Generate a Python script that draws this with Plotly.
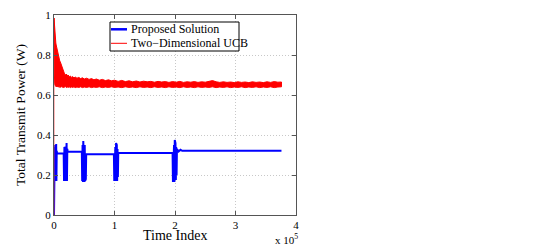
import plotly.graph_objects as go

# x values are in units of 1e5 time steps (axis shows "x 10^5")
x_ticks = [0, 1, 2, 3, 4]
x_tick_labels = ["0", "1", "2", "3", "4"]
y_ticks = [0, 0.2, 0.4, 0.6, 0.8, 1.0]
y_tick_labels = ["0", "0.2", "0.4", "0.6", "0.8", "1"]

series_names = ["Proposed Solution", "Two\u2212Dimensional UCB"]

# Two-Dimensional UCB: noisy band, described by upper / lower envelopes
red_x = [
    0.000, 0.004, 0.008, 0.012, 0.016, 0.020, 0.025, 0.030, 0.036, 0.042,
    0.050, 0.058, 0.066, 0.075, 0.085, 0.095, 0.105, 0.115, 0.125, 0.135,
    0.145, 0.155, 0.165, 0.175, 0.190, 0.205, 0.220, 0.235, 0.250, 0.270,
    0.290, 0.310, 0.330, 0.350, 0.380, 0.410, 0.440, 0.470, 0.500, 0.540,
    0.580, 0.620, 0.660, 0.700, 0.750, 0.800, 0.850, 0.900, 0.950, 1.000,
    1.060, 1.120, 1.180, 1.240, 1.300, 1.360, 1.420, 1.480, 1.540, 1.600,
    1.660, 1.720, 1.780, 1.840, 1.900, 1.960, 2.020, 2.080, 2.140, 2.200,
    2.260, 2.320, 2.380, 2.440, 2.500, 2.560, 2.620, 2.680, 2.740, 2.800,
    2.860, 2.920, 2.980, 3.040, 3.100, 3.160, 3.220, 3.280, 3.340, 3.400,
    3.460, 3.520, 3.580, 3.640, 3.700, 3.760,
]
red_upper = [
    0.985, 0.960, 0.935, 0.915, 0.900, 0.885, 0.870, 0.860, 0.850, 0.840,
    0.830, 0.815, 0.800, 0.790, 0.780, 0.770, 0.765, 0.755, 0.745, 0.735,
    0.725, 0.720, 0.712, 0.705, 0.700, 0.705, 0.695, 0.700, 0.690, 0.695,
    0.688, 0.692, 0.685, 0.690, 0.684, 0.688, 0.682, 0.686, 0.680, 0.684,
    0.678, 0.682, 0.676, 0.680, 0.674, 0.678, 0.672, 0.676, 0.671, 0.674,
    0.668, 0.673, 0.667, 0.671, 0.666, 0.670, 0.665, 0.669, 0.666, 0.668,
    0.664, 0.668, 0.665, 0.667, 0.663, 0.667, 0.664, 0.668, 0.663, 0.666,
    0.664, 0.667, 0.663, 0.666, 0.664, 0.669, 0.672, 0.666, 0.663, 0.666,
    0.663, 0.665, 0.662, 0.666, 0.663, 0.665, 0.662, 0.666, 0.663, 0.665,
    0.662, 0.666, 0.663, 0.667, 0.664, 0.665,
]
red_lower = [
    0.985, 0.720, 0.680, 0.660, 0.650, 0.648, 0.645, 0.643, 0.646, 0.641,
    0.644, 0.640, 0.643, 0.639, 0.642, 0.638, 0.641, 0.639, 0.642, 0.638,
    0.641, 0.637, 0.640, 0.638, 0.642, 0.637, 0.640, 0.638, 0.641, 0.637,
    0.640, 0.638, 0.641, 0.637, 0.640, 0.638, 0.641, 0.637, 0.640, 0.638,
    0.641, 0.637, 0.640, 0.638, 0.641, 0.637, 0.640, 0.638, 0.641, 0.638,
    0.640, 0.637, 0.641, 0.638, 0.640, 0.637, 0.641, 0.638, 0.640, 0.637,
    0.641, 0.638, 0.640, 0.637, 0.641, 0.638, 0.640, 0.637, 0.641, 0.638,
    0.640, 0.637, 0.641, 0.638, 0.640, 0.638, 0.641, 0.637, 0.640, 0.638,
    0.641, 0.637, 0.640, 0.638, 0.641, 0.637, 0.640, 0.638, 0.641, 0.637,
    0.640, 0.638, 0.641, 0.637, 0.640, 0.641,
]
red_start_x = [0.0, 0.0]
red_start_y = [0.0, 0.985]

# Proposed Solution: steady levels with short oscillation bursts
blue_x = [
    0.000, 0.004, 0.008, 0.012, 0.016, 0.020, 0.024, 0.028, 0.032, 0.036, 0.040, 0.045, 0.050,
    0.160, 0.166, 0.172, 0.178, 0.184, 0.190, 0.196, 0.202, 0.208, 0.214, 0.220, 0.226,
    0.460, 0.466, 0.472, 0.478, 0.484, 0.490, 0.496, 0.502, 0.508, 0.514, 0.520, 0.526, 0.532,
    0.990, 0.996, 1.002, 1.008, 1.014, 1.020, 1.026, 1.032, 1.038, 1.044, 1.050, 1.056, 1.062,
    1.960, 1.966, 1.972, 1.978, 1.984, 1.990, 1.996, 2.002, 2.008, 2.014, 2.020, 2.026, 2.032,
    2.060, 2.090, 2.120, 3.760,
]
blue_y = [
    0.000, 0.310, 0.170, 0.340, 0.180, 0.350, 0.170, 0.330, 0.180, 0.355, 0.170, 0.320, 0.308,
    0.308, 0.170, 0.340, 0.175, 0.335, 0.170, 0.350, 0.180, 0.360, 0.170, 0.330, 0.316,
    0.316, 0.170, 0.350, 0.165, 0.370, 0.170, 0.360, 0.165, 0.350, 0.170, 0.340, 0.180, 0.304,
    0.304, 0.170, 0.330, 0.175, 0.340, 0.170, 0.360, 0.175, 0.350, 0.170, 0.330, 0.190, 0.310,
    0.310, 0.165, 0.340, 0.170, 0.350, 0.165, 0.375, 0.170, 0.360, 0.175, 0.340, 0.200, 0.330,
    0.318, 0.326, 0.321, 0.321,
]

FONT = "Liberation Serif, Times New Roman, serif"
BLUE = "#0000ff"
RED = "#ff0000"

fig = go.Figure()

fig.add_trace(go.Scatter(
    x=blue_x, y=blue_y, mode="lines", name=series_names[0],
    line=dict(color=BLUE, width=2), showlegend=False,
))
fig.add_trace(go.Scatter(
    x=red_start_x, y=red_start_y, mode="lines",
    line=dict(color="rgba(255,60,60,0.6)", width=1.2), showlegend=False,
))
fig.add_trace(go.Scatter(
    x=red_x + red_x[::-1], y=red_upper + red_lower[::-1], mode="lines",
    name=series_names[1], fill="toself", fillcolor=RED,
    line=dict(color=RED, width=1), showlegend=False,
))

# page body has an 8px margin, so the figure is offset by 8px in the screenshot
OFF = 8
W, H = 538 - OFF, 245 - OFF
# plot area in screenshot pixels: left 54, right 296, top 15, bottom 215
L, R, T, B = 54, 296, 15, 215


def px(xp):
    return (xp - L) / (R - L)


def py(yp):
    return (B - yp) / (B - T)


axis_common = dict(
    showline=True, linecolor="#555555", linewidth=1, mirror="ticks",
    ticks="inside", ticklen=4, tickcolor="#555555",
    showgrid=True, gridcolor="#c8c8c8", griddash="1px,2px", gridwidth=1,
    zeroline=False, automargin=False,
    tickfont=dict(family=FONT, size=11, color="black"),
)

fig.update_layout(
    width=W, height=H,
    margin=dict(l=L - OFF, r=W - (R - OFF), t=T - OFF, b=H - (B - OFF), autoexpand=False),
    paper_bgcolor="white", plot_bgcolor="white",
    font=dict(family=FONT, color="black"),
    xaxis=dict(
        range=[0, 4], tickvals=x_ticks, ticktext=x_tick_labels,
        **axis_common,
    ),
    yaxis=dict(
        range=[0, 1], tickvals=y_ticks, ticktext=y_tick_labels,
        title=dict(text="Total Transmit Power (W)", font=dict(family=FONT, size=13.5), standoff=8),
        **axis_common,
    ),
    shapes=[
        dict(type="rect", xref="paper", yref="paper",
             x0=px(110), x1=px(239), y0=py(51), y1=py(22),
             line=dict(color="black", width=1), fillcolor="white", layer="above"),
        dict(type="line", xref="paper", yref="paper",
             x0=px(111), x1=px(127), y0=py(29.3), y1=py(29.3),
             line=dict(color=BLUE, width=2.5), layer="above"),
        dict(type="line", xref="paper", yref="paper",
             x0=px(111), x1=px(127), y0=py(43.3), y1=py(43.3),
             line=dict(color=RED, width=1), layer="above"),
    ],
    annotations=[
        dict(text="Time Index", xref="paper", yref="paper",
             x=0.5, y=py(235.5), xanchor="center", yanchor="middle",
             showarrow=False, font=dict(family=FONT, size=14, color="black")),
        dict(text=series_names[0], xref="paper", yref="paper",
             x=px(129), y=py(29.3), xanchor="left", yanchor="middle",
             showarrow=False, font=dict(family=FONT, size=12, color="black")),
        dict(text=series_names[1], xref="paper", yref="paper",
             x=px(129), y=py(43.3), xanchor="left", yanchor="middle",
             showarrow=False, font=dict(family=FONT, size=12, color="black")),
        dict(text="x 10<sup>5</sup>", xref="paper", yref="paper",
             x=px(273), y=py(238.5), xanchor="left", yanchor="middle",
             showarrow=False, font=dict(family=FONT, size=11, color="black")),
    ],
)

fig.write_html("out.html")
